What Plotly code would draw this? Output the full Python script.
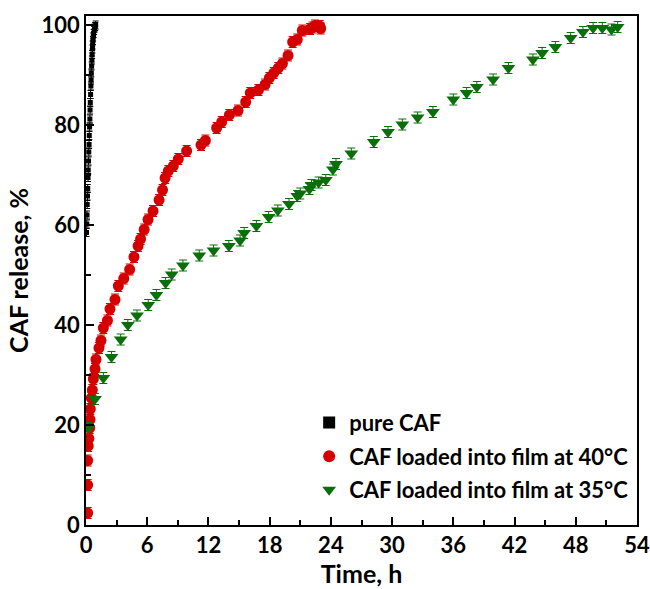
import plotly.graph_objects as go

# ---- data ----
pure_t = [0.05, 0.08, 0.10, 0.12, 0.15, 0.17, 0.20, 0.22, 0.25, 0.27, 0.30, 0.32, 0.35, 0.38,
          0.40, 0.42, 0.45, 0.48, 0.50, 0.52, 0.55, 0.58, 0.60, 0.63, 0.65, 0.68, 0.70, 0.75,
          0.80, 0.85, 0.90, 0.95]
pure_v = [58.5, 60.2, 62.0, 64.1, 65.8, 67.3, 69.5, 71.0, 72.8, 74.6, 76.1, 77.9, 79.6, 81.2,
          83.0, 84.5, 86.1, 87.8, 89.0, 90.4, 91.8, 93.0, 94.1, 95.2, 96.0, 96.9, 97.6, 98.3,
          98.9, 99.4, 99.7, 100.0]

f40_t = [0.16, 0.16, 0.16, 0.22, 0.28, 0.36, 0.39, 0.42, 0.52, 0.62, 0.72, 0.88, 0.98, 1.27,
         1.47, 1.7, 2.1, 2.35, 2.84, 3.17, 3.7, 4.28, 4.7, 5.1, 5.35, 5.7, 6.08, 6.57, 7.16,
         7.5, 7.75, 8.07, 8.56, 9.05, 9.86, 11.27, 11.7, 12.8, 13.3, 14.05, 14.9, 15.65, 16.1,
         16.9, 17.55, 17.97, 18.4, 18.85, 19.25, 19.8, 20.25, 20.7, 21.2, 21.96, 22.2, 22.45,
         22.9, 23.0]
f40_v = [2.4, 8.0, 12.9, 15.8, 17.3, 19.4, 21.1, 23.2, 25.4, 27.0, 29.2, 31.2, 33.1, 35.4,
         36.9, 39.4, 40.9, 43.2, 45.1, 47.8, 49.3, 51.1, 53.6, 55.8, 57.2, 59.1, 61.1, 62.8, 65.0,
         67.0, 69.4, 70.8, 71.8, 73.2, 74.8, 76.0, 76.9, 79.4, 80.6, 82.0, 82.9, 84.6, 86.4,
         87.0, 88.1, 89.4, 90.4, 91.4, 92.3, 93.9, 96.6, 97.1, 98.9, 99.2, 99.5, 99.9,
         99.8, 99.3]

f35_t = [0.23, 0.88, 1.7, 2.5, 3.4, 4.1, 5.0, 6.1, 6.9, 7.8, 8.4, 9.5, 11.1, 12.5, 14.0, 15.1,
         15.5, 16.7, 17.9, 18.8, 19.9, 20.7, 21.0, 21.9, 22.1, 22.8, 23.5, 24.2, 24.5, 26.0, 28.2,
         29.6, 31.0, 32.5, 34.0, 36.0, 37.3, 38.3, 39.9, 41.4, 43.8, 44.7, 46.0, 47.5, 48.7,
         49.7, 50.6, 51.5, 52.1]
f35_v = [19.4, 25.2, 29.4, 33.6, 37.1, 40.0, 41.9, 44.0, 46.0, 48.4, 50.1, 51.9, 53.9, 54.9,
         55.8, 56.9, 58.4, 59.8, 61.6, 62.9, 64.2, 65.8, 66.3, 67.2, 68.0, 68.5, 69.0, 71.1, 72.2,
         74.3, 76.6, 78.6, 80.1, 81.5, 82.6, 85.1, 86.4, 87.6, 89.1, 91.4, 93.1, 94.4, 95.6, 97.4,
         98.6, 99.4, 99.4, 99.1, 99.6]

x_ticks = [0, 6, 12, 18, 24, 30, 36, 42, 48, 54]
y_ticks = [0, 20, 40, 60, 80, 100]

names = ["pure CAF", "CAF loaded into film at 40°C", "CAF loaded into film at 35°C"]

BLACK = "#000000"
RED = "#d40000"
GREEN = "#0a6e0a"

fig = go.Figure()

fig.add_trace(go.Scatter(
    x=pure_t, y=pure_v, mode="markers", name=names[0], legendgroup="a",
    marker=dict(symbol="square", size=5, color=BLACK),
    error_y=dict(type="constant", value=0.8, color=BLACK, thickness=1, width=3)))
fig.add_trace(go.Scatter(
    x=f40_t, y=f40_v, mode="markers", name=names[1], legendgroup="b",
    marker=dict(symbol="circle", size=11, color=RED),
    error_y=dict(type="constant", value=1.1, color=RED, thickness=1, width=4)))
fig.add_trace(go.Scatter(
    x=f35_t, y=f35_v, mode="markers", name=names[2], legendgroup="c",
    marker=dict(symbol="triangle-down", size=12, color=GREEN),
    error_y=dict(type="constant", value=1.1, color=GREEN, thickness=1, width=4)))

tickfont = dict(family="Lato", size=22, color="black", weight="bold")
titlefont = dict(family="Lato", size=25, color="black", weight="bold")

fig.update_layout(
    width=650, height=589,
    margin=dict(l=86, r=13, t=16, b=64),
    paper_bgcolor="white", plot_bgcolor="white",
    showlegend=True,
    legend=dict(x=0.405, y=0.242, xanchor="left", yanchor="top",
                font=dict(family="Lato", size=22, color="black", weight="bold"),
                bgcolor="rgba(0,0,0,0)", tracegroupgap=2, itemsizing="constant",
                itemwidth=30),
    xaxis=dict(range=[0, 54], tickvals=x_ticks, ticktext=[str(v) for v in x_ticks],
               ticks="inside", ticklen=8, tickwidth=1.5, tickcolor="black",
               minor=dict(ticks="inside", dtick=3, tick0=0, ticklen=5, tickwidth=1.5, tickcolor="black"),
               showline=True, linecolor="black", linewidth=1.5, mirror=True,
               showgrid=False, zeroline=False, tickfont=tickfont, automargin=False,
               title=dict(text="Time, h", font=titlefont, standoff=2)),
    yaxis=dict(range=[0, 101.8], tickvals=y_ticks, ticktext=[str(v) for v in y_ticks],
               ticks="inside", ticklen=8, tickwidth=1.5, tickcolor="black",
               minor=dict(ticks="inside", dtick=10, tick0=0, ticklen=5, tickwidth=1.5, tickcolor="black"),
               showline=True, linecolor="black", linewidth=1.5, mirror=True,
               showgrid=False, zeroline=False, tickfont=tickfont, automargin=False,
               title=dict(text="CAF release, %", font=titlefont, standoff=6)),
)

fig.write_html("out.html")
